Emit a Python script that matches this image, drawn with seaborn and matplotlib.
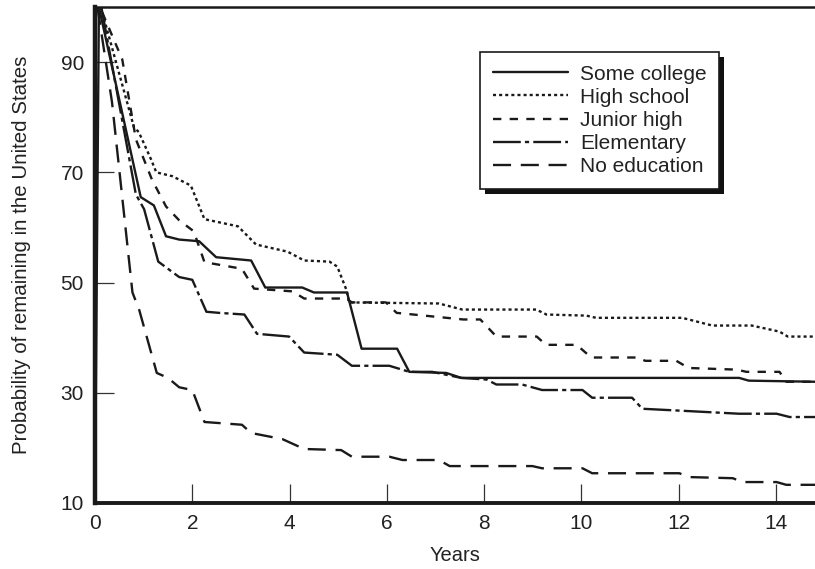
import matplotlib
matplotlib.use("Agg")
import matplotlib.pyplot as plt
import matplotlib.patches as mpatches
import seaborn as sns
import pandas as pd

# ---- data ----
college_x = [0, 0.08, 0.94, 1.21, 1.46, 1.73, 2.14, 2.49, 3.21, 3.5, 4.26, 4.5, 5.18, 5.48, 6.21, 6.46, 7.22, 7.53, 13.24, 13.44, 14.8]
college_y = [10, 100, 65.5, 64, 58.4, 57.8, 57.5, 54.6, 54, 49.1, 49.1, 48.2, 48.2, 38, 38, 33.8, 33.6, 32.7, 32.7, 32.2, 32]

high_x = [0.12, 0.8, 0.9, 1.15, 1.26, 1.59, 1.97, 2.25, 2.94, 3.31, 3.96, 4.3, 4.82, 4.98, 5.18, 5.22, 7.07, 7.55, 9.07, 9.28, 10.1, 10.3, 12.07, 12.69, 13.5, 14.07, 14.24, 14.8]
high_y = [100, 78.2, 77.3, 72.4, 70, 69.3, 67.6, 61.5, 60.2, 56.9, 55.6, 54, 53.8, 52.9, 48.4, 46.4, 46.2, 45.1, 45.1, 44.2, 44, 43.6, 43.6, 42.2, 42.2, 41.1, 40.2, 40.2]

junior_x = [0.15, 0.56, 0.84, 1.17, 1.46, 1.73, 2.03, 2.25, 3.02, 3.27, 4.06, 4.3, 5.16, 5.28, 5.98, 6.2, 7.0, 7.57, 7.92, 8.25, 9.08, 9.27, 9.9, 10.2, 11.16, 11.31, 11.95, 12.2, 13.19, 13.39, 14.07, 14.21, 14.8]
junior_y = [99, 90.5, 76, 68.7, 63.8, 61.3, 59.3, 53.7, 52.5, 48.9, 48.4, 47.1, 47.1, 46.4, 46.4, 44.5, 43.8, 43.3, 43.3, 40.2, 40.2, 38.7, 38.7, 36.4, 36.4, 35.8, 35.8, 34.5, 34.2, 33.8, 33.8, 32, 32]

elem_x = [0.13, 0.84, 1.01, 1.3, 1.73, 2.0, 2.29, 2.55, 3.07, 3.33, 3.99, 4.3, 4.98, 5.28, 6.05, 6.46, 6.93, 7.53, 8.05, 8.25, 8.78, 9.19, 10.02, 10.22, 11.04, 11.25, 12.15, 13.24, 14.01, 14.28, 14.8]
elem_y = [100, 66, 63.3, 53.8, 51, 50.5, 44.7, 44.5, 44.2, 40.7, 40.2, 37.3, 36.9, 34.9, 34.9, 33.8, 33.8, 32.7, 32.4, 31.5, 31.5, 30.5, 30.5, 29.1, 29.1, 27.1, 26.7, 26.2, 26.2, 25.6, 25.6]

noed_x = [0.05, 0.35, 0.77, 0.91, 1.27, 1.5, 1.73, 2.0, 2.25, 3.02, 3.21, 3.85, 4.3, 5.06, 5.28, 6.05, 6.32, 7.07, 7.29, 8.99, 9.19, 10.02, 10.22, 12.01, 12.22, 13.11, 13.31, 14.01, 14.21, 14.8]
noed_y = [100, 82.7, 48.2, 45, 33.6, 32.7, 31, 30.5, 24.7, 24.2, 22.7, 21.6, 19.8, 19.6, 18.4, 18.4, 17.8, 17.8, 16.7, 16.7, 16.3, 16.3, 15.4, 15.4, 14.7, 14.5, 13.8, 13.8, 13.3, 13.3]

labels = ["Some college", "High school", "Junior high", "Elementary", "No education"]
x_ticks = [0, 2, 4, 6, 8, 10, 12, 14]
y_ticks = [10, 30, 50, 70, 90]

series = [
    (labels[0], college_x, college_y, "-"),
    (labels[1], high_x, high_y, (0, (2.2, 2.2))),
    (labels[2], junior_x, junior_y, (0, (6, 6))),
    (labels[3], elem_x, elem_y, (0, (20, 3, 3, 3))),
    (labels[4], noed_x, noed_y, (0, (13, 7))),
]

sns.set_theme(style="white")
plt.rcParams["font.family"] = ["Liberation Sans", "DejaVu Sans"]
plt.rcParams["lines.scale_dashes"] = False

fig = plt.figure(figsize=(8.15, 5.69), dpi=100)
ax = fig.add_axes([95 / 815, 1 - 503 / 569, 1 - 95 / 815, (503 - 7) / 569])

for name, xs, ys, ls in series:
    df = pd.DataFrame({"x": xs, "y": ys})
    sns.lineplot(data=df, x="x", y="y", ax=ax, color="#1a1a1a", lw=1.7,
                 linestyle=ls, estimator=None, sort=False, label=name)

ax.set_xlim(0, 14.8)
ax.set_ylim(10, 100)
ax.set_xticks(x_ticks)
ax.set_yticks(y_ticks)
ax.tick_params(bottom=True, left=True, direction="in", length=14, width=0.9,
               color="#333333", labelsize=15, labelcolor="#222222")
ax.tick_params(axis="x", pad=8)
ax.tick_params(axis="y", pad=8)
ax.set_xlabel("Years", fontsize=14.5, color="#222222", labelpad=9)
ax.set_ylabel("Probability of remaining in the United States", fontsize=14.8,
              color="#222222", labelpad=21)

for side in ["left", "bottom", "top"]:
    ax.spines[side].set_visible(True)
    ax.spines[side].set_color("#1a1a1a")
ax.spines["left"].set_linewidth(3.2)
ax.spines["bottom"].set_linewidth(2.8)
ax.spines["top"].set_linewidth(1.8)
ax.spines["right"].set_visible(False)

leg = ax.legend(loc="upper left", bbox_to_anchor=(480 / 815, 1 - 52 / 569),
                bbox_transform=fig.transFigure, frameon=True, fancybox=False,
                fontsize=15, handlelength=3.6, handletextpad=0.6,
                labelspacing=0.2, borderpad=0.6, borderaxespad=0)
frame = leg.get_frame()
frame.set_edgecolor("#1a1a1a")
frame.set_linewidth(1.2)
frame.set_facecolor("white")
frame.set_alpha(1)
for t in leg.get_texts():
    t.set_color("#222222")

fig.canvas.draw()
bb = leg.get_window_extent()
inv = fig.transFigure.inverted()
(x0, y0), (x1, y1) = inv.transform([(bb.x0 + 5, bb.y0 - 5), (bb.x1 + 5, bb.y1 - 5)])
shadow = mpatches.Rectangle((x0, y0), x1 - x0, y1 - y0, transform=fig.transFigure,
                            facecolor="#111111", edgecolor="none", zorder=4)
ax.add_artist(shadow)
shadow.set_clip_on(False)
leg.set_zorder(6)

fig.savefig("out.png", dpi=100)
